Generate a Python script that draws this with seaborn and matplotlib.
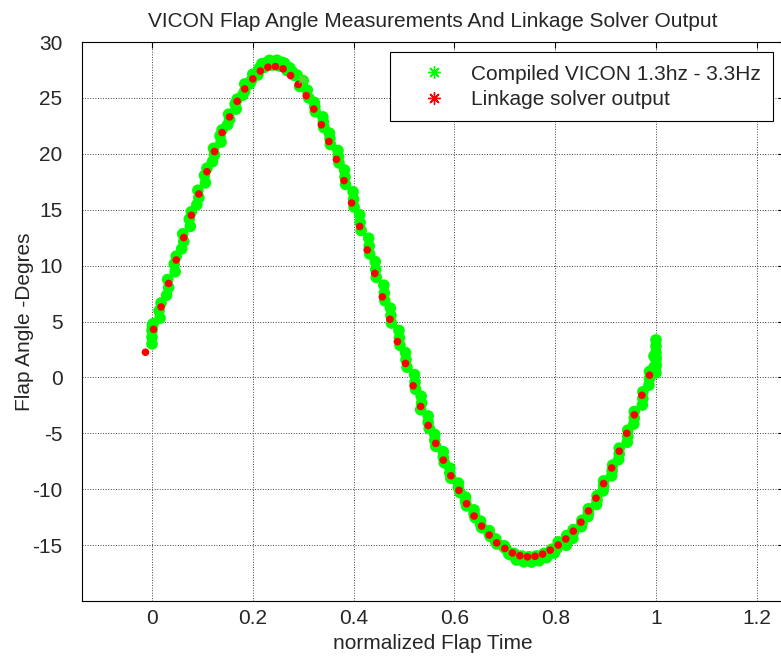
import matplotlib
matplotlib.use("Agg")
import matplotlib.pyplot as plt
from matplotlib.lines import Line2D
import seaborn as sns
import pandas as pd

# Linkage solver output (normalized time, flap angle in degrees)
solver_time = [-0.013, 0.003, 0.018, 0.033, 0.048, 0.063, 0.078, 0.093, 0.109, 0.124,
               0.139, 0.154, 0.169, 0.184, 0.200, 0.215, 0.230, 0.245, 0.260, 0.275,
               0.290, 0.306, 0.321, 0.336, 0.351, 0.366, 0.381, 0.396, 0.412, 0.427,
               0.442, 0.457, 0.472, 0.487, 0.503, 0.518, 0.533, 0.548, 0.563, 0.578,
               0.593, 0.609, 0.624, 0.639, 0.654, 0.669, 0.684, 0.700, 0.715, 0.730,
               0.745, 0.760, 0.775, 0.790, 0.806, 0.821, 0.836, 0.851, 0.866, 0.881,
               0.896, 0.912, 0.927, 0.942, 0.957, 0.972, 0.987]
solver_angle = [2.25, 4.3, 6.3, 8.4, 10.5, 12.5, 14.5, 16.4, 18.4, 20.2,
                21.9, 23.3, 24.7, 25.8, 26.7, 27.4, 27.75, 27.8, 27.6, 27.0,
                26.2, 25.2, 24.0, 22.6, 21.1, 19.5, 17.6, 15.6, 13.5, 11.4,
                9.3, 7.2, 5.2, 3.2, 1.25, -0.75, -2.6, -4.3, -5.9, -7.4,
                -8.8, -10.1, -11.3, -12.4, -13.3, -14.1, -14.8, -15.3, -15.7, -15.95,
                -16.05, -16.0, -15.8, -15.45, -15.0, -14.45, -13.75, -12.95, -11.95, -10.8,
                -9.5, -8.1, -6.6, -5.0, -3.35, -1.6, 0.2]

# VICON measured flap angle, compiled from recordings at several flapping frequencies
run_a_time = [0.001, 0.018, 0.031, 0.048, 0.061, 0.078, 0.091, 0.109, 0.122, 0.139,
              0.152, 0.169, 0.184, 0.200, 0.218, 0.233, 0.248, 0.263, 0.278, 0.293,
              0.311, 0.324, 0.341, 0.354, 0.371, 0.384, 0.401, 0.415, 0.432, 0.445,
              0.462, 0.475, 0.492, 0.506, 0.523, 0.533, 0.550, 0.563, 0.580, 0.593,
              0.611, 0.624, 0.641, 0.654, 0.671, 0.684, 0.703, 0.718, 0.733, 0.748,
              0.763, 0.778, 0.793, 0.806, 0.823, 0.836, 0.853, 0.866, 0.883, 0.896,
              0.914, 0.927, 0.944, 0.957, 0.974, 0.987]
run_a_angle = [4.64, 6.66, 8.76, 10.84, 12.84, 14.82, 16.74, 18.71, 20.49, 22.14,
               23.54, 24.89, 26.25, 27.12, 28.06, 28.36, 28.37, 28.1, 27.36, 26.03,
               25.0, 23.76, 22.34, 20.83, 19.18, 17.26, 15.24, 13.14, 11.04, 8.94,
               6.86, 4.86, 2.87, 0.91, -1.06, -2.89, -4.57, -6.16, -7.64, -9.02,
               -10.3, -11.49, -12.55, -13.44, -14.22, -14.89, -15.37, -15.74, -15.97, -16.04,
               -15.97, -15.74, -15.37, -14.71, -14.13, -13.61, -12.78, -11.75, -10.58, -9.26,
               -7.84, -6.33, -4.72, -3.05, -1.29, 0.52]

run_b_time = [0.016, 0.029, 0.046, 0.059, 0.076, 0.089, 0.106, 0.120, 0.137, 0.150,
              0.167, 0.180, 0.194, 0.210, 0.223, 0.238, 0.253, 0.268, 0.283, 0.308,
              0.322, 0.339, 0.352, 0.369, 0.382, 0.399, 0.412, 0.430, 0.443, 0.460,
              0.473, 0.490, 0.503, 0.521, 0.534, 0.548, 0.561, 0.578, 0.591, 0.608,
              0.622, 0.639, 0.652, 0.669, 0.682, 0.699, 0.708, 0.723, 0.738, 0.753,
              0.768, 0.783, 0.798, 0.822, 0.835, 0.852, 0.865, 0.882, 0.895, 0.912,
              0.926, 0.943, 0.956, 0.973, 0.986, 1.000]
run_b_angle = [5.3, 7.35, 9.45, 11.5, 13.5, 15.45, 17.4, 19.3, 21.05, 22.6,
               24.0, 25.25, 26.25, 27.05, 27.73, 27.93, 27.85, 27.45, 27.0, 25.7,
               24.6, 23.3, 21.85, 20.3, 18.55, 16.6, 14.55, 12.45, 10.35, 8.25,
               6.2, 4.2, 2.22, 0.25, -1.68, -3.45, -5.1, -6.65, -8.1, -9.45,
               -10.7, -11.85, -12.85, -13.7, -14.45, -15.05, -15.8, -16.33, -16.5, -16.52,
               -16.4, -16.12, -15.72, -15.02, -14.4, -13.35, -12.45, -11.37, -10.15, -8.8,
               -7.35, -5.8, -4.17, -2.47, -0.7, 1.15]

run_c_time = [0.014, 0.033, 0.044, 0.063, 0.074, 0.093, 0.104, 0.124, 0.135, 0.154,
              0.165, 0.184, 0.197, 0.213, 0.228, 0.243, 0.258, 0.273, 0.288, 0.300,
              0.323, 0.340, 0.353, 0.370, 0.383, 0.400, 0.413, 0.431, 0.444, 0.461,
              0.474, 0.491, 0.504, 0.522, 0.535, 0.548, 0.561, 0.578, 0.591, 0.608,
              0.622, 0.639, 0.652, 0.669, 0.682, 0.699, 0.713, 0.728, 0.743, 0.758,
              0.773, 0.788, 0.803, 0.823, 0.836, 0.853, 0.866, 0.883, 0.896, 0.913,
              0.927, 0.944, 0.957, 0.974, 0.987, 1.000]
run_c_angle = [5.96, 8.04, 10.14, 12.16, 14.16, 16.08, 18.06, 19.89, 21.61, 23.06,
               24.46, 25.61, 26.55, 27.68, 28.19, 28.24, 28.18, 27.7, 27.04, 26.55,
               24.2, 22.84, 21.35, 19.77, 17.92, 15.94, 13.86, 11.76, 9.66, 7.56,
               5.54, 3.54, 1.58, -0.41, -2.29, -4.01, -5.63, -7.15, -8.56, -9.88,
               -11.1, -12.21, -13.15, -13.96, -14.68, -15.22, -15.88, -16.16, -16.28, -16.26,
               -16.08, -15.76, -15.33, -14.74, -13.87, -13.09, -12.12, -11.0, -9.72, -8.34,
               -6.85, -5.27, -3.63, -1.9, -0.11, 1.78]

# Samples at the start and the end of each recorded cycle
cycle_edge_time = [0.0, 0.0, 0.0, 0.002, 1.0, 1.0, 1.0, 1.0, 1.0, 1.0, 0.996, 0.996]
cycle_edge_angle = [3.0, 3.6, 4.2, 4.8, 0.4, 1.0, 1.6, 2.2, 2.8, 3.35, 0.9, 1.9]

# Single marked sample on the downstroke
marker_time = [0.297]
marker_angle = [26.7]

x_ticks = [0, 0.2, 0.4, 0.6, 0.8, 1.0, 1.2]
x_tick_labels = ["0", "0.2", "0.4", "0.6", "0.8", "1", "1.2"]
y_ticks = [-15, -10, -5, 0, 5, 10, 15, 20, 25, 30]
y_tick_labels = ["-15", "-10", "-5", "0", "5", "10", "15", "20", "25", "30"]

vicon = pd.DataFrame({
    "time": run_a_time + run_b_time + run_c_time + cycle_edge_time,
    "angle": run_a_angle + run_b_angle + run_c_angle + cycle_edge_angle,
})
solver = pd.DataFrame({"time": solver_time, "angle": solver_angle})

sns.set_style("white")
plt.rcParams["font.family"] = ["Liberation Sans", "DejaVu Sans"]

FS = 15
GREEN = "#00ff00"
RED = "#ff0000"
ASTERISK = (8, 2, 0)

fig = plt.figure(figsize=(7.81, 6.56), dpi=100)
ax = fig.add_axes([82 / 781, 55 / 656, (784 - 82) / 781, 559 / 656])

sns.scatterplot(data=vicon, x="time", y="angle", color=GREEN, s=70,
                linewidth=0, edgecolor="none", ax=ax, legend=False, zorder=3)
sns.scatterplot(data=solver, x="time", y="angle", color=RED, s=30,
                linewidth=0, edgecolor="none", ax=ax, legend=False, zorder=4)
ax.plot(marker_time, marker_angle, linestyle="none", marker=ASTERISK,
        markersize=7, markeredgewidth=0.8, color="#6fcf3a", zorder=5)

ax.set_xlim(-0.1389, 1.254)
ax.set_ylim(-20, 30)
ax.set_xticks(x_ticks)
ax.set_xticklabels(x_tick_labels)
ax.set_yticks(y_ticks)
ax.set_yticklabels(y_tick_labels)

ax.grid(True, linestyle=":", color="#404040", linewidth=0.7)
ax.set_axisbelow(True)
for sp in ax.spines.values():
    sp.set_visible(True)
    sp.set_color("black")
    sp.set_linewidth(0.8)
ax.tick_params(axis="both", direction="in", length=4, width=0.8, color="black",
               labelsize=FS, top=True, right=True)
ax.tick_params(axis="x", pad=6)
ax.tick_params(axis="y", pad=14)

ax.set_xlabel("normalized Flap Time", fontsize=FS, labelpad=4)
ax.set_ylabel("Flap Angle -Degres", fontsize=FS, labelpad=-1)
ax.set_title("VICON Flap Angle Measurements And Linkage Solver Output",
             fontsize=FS, pad=11)

handles = [
    Line2D([], [], color=GREEN, marker=ASTERISK, linestyle="none",
           markersize=9, markeredgewidth=1.0),
    Line2D([], [], color=RED, marker=ASTERISK, linestyle="none",
           markersize=9, markeredgewidth=1.0),
]
leg = ax.legend(handles, ["Compiled VICON 1.3hz - 3.3Hz", "Linkage solver output"],
                loc="upper left", bbox_to_anchor=(0.4387, 0.982), fontsize=FS,
                frameon=True, fancybox=False, framealpha=1, edgecolor="black",
                handlelength=3.0, handletextpad=0.3, borderpad=0.6,
                labelspacing=0.3, borderaxespad=0, numpoints=1)
leg.get_frame().set_linewidth(0.8)

fig.savefig("out.png", dpi=100, facecolor="white")
